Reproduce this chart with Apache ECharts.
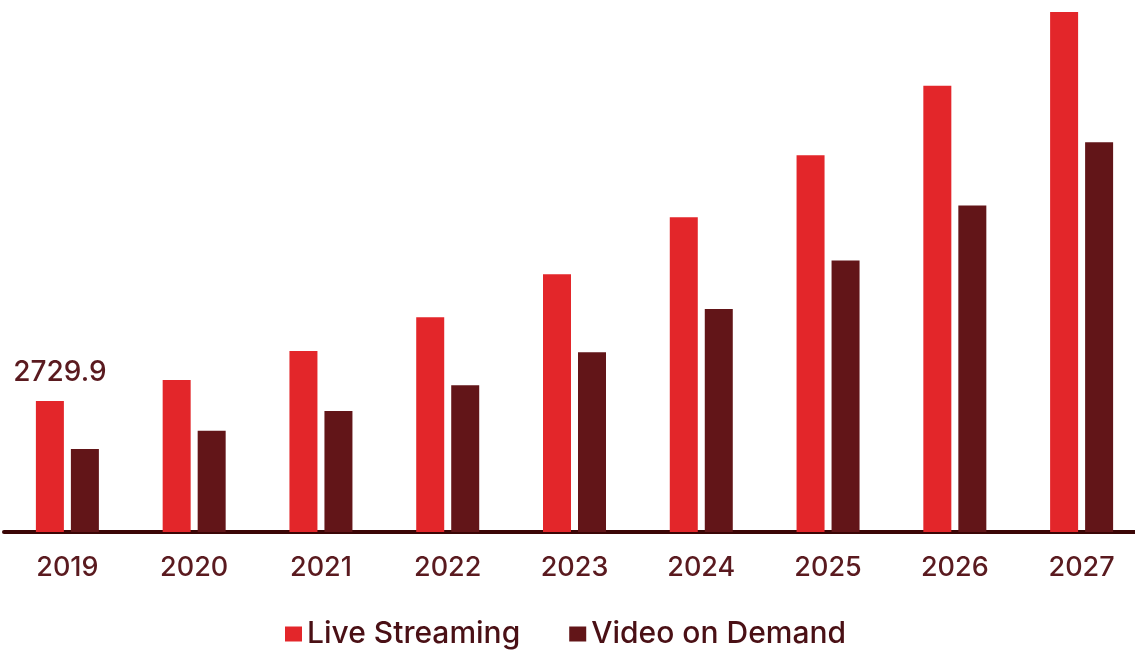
<!DOCTYPE html>
<html>
<head>
<meta charset="utf-8">
<script src="https://cdn.jsdelivr.net/npm/echarts@6/dist/echarts.min.js"></script>
<style>
html,body{margin:0;padding:0;background:#fff;}
#chart{width:1135px;height:651px;}
</style>
</head>
<body>
<div id="chart"></div>
<script>
var categories = ['2019','2020','2021','2022','2023','2024','2025','2026','2027'];
var liveStreaming = [2729.9, 3168, 3772, 4474, 5370, 6558, 7850, 9295, 10831];
var videoOnDemand = [1730, 2111, 2522, 3057, 3745, 4647, 5654, 6800, 8121];
var seriesNames = ['Live Streaming', 'Video on Demand'];

var chart = echarts.init(document.getElementById('chart'));
var textColor = '#5a1a1f';
var fontFam = 'Inter';
var liveData = liveStreaming.map(function (v, i) {
  return i === 0 ? { value: v, label: { show: true } } : v;
});
chart.setOption({
  animation: false,
  backgroundColor: '#ffffff',
  textStyle: { fontFamily: fontFam },
  legend: {
    bottom: -3,
    left: 280,
    itemWidth: 17,
    itemHeight: 15,
    itemGap: 49,
    icon: 'rect',
    textStyle: { fontSize: 30, fontWeight: 500, color: '#4a1015', fontFamily: fontFam },
    data: seriesNames
  },
  grid: { left: 4, top: 4, width: 1141, height: 528, containLabel: false, outerBoundsMode: 'none' },
  xAxis: {
    type: 'category',
    data: categories,
    axisLine: { show: true, lineStyle: { color: '#3b0606', width: 4 } },
    axisTick: { show: false },
    axisLabel: { color: textColor, fontSize: 27, fontWeight: 500, margin: 22, fontFamily: fontFam }
  },
  yAxis: {
    type: 'value',
    min: 0,
    max: 11000,
    show: false,
    splitLine: { show: false }
  },
  series: [
    {
      name: seriesNames[0],
      type: 'bar',
      data: liveData,
      barWidth: 28,
      barGap: '25%',
      itemStyle: { color: '#e3262a' },
      label: { show: false, position: 'top', distance: 14, offset: [10, 0], fontSize: 28, fontWeight: 500, color: textColor, fontFamily: fontFam }
    },
    {
      name: seriesNames[1],
      type: 'bar',
      data: videoOnDemand,
      barWidth: 28,
      barGap: '25%',
      itemStyle: { color: '#621518' }
    }
  ]
});
</script>
</body>
</html>
